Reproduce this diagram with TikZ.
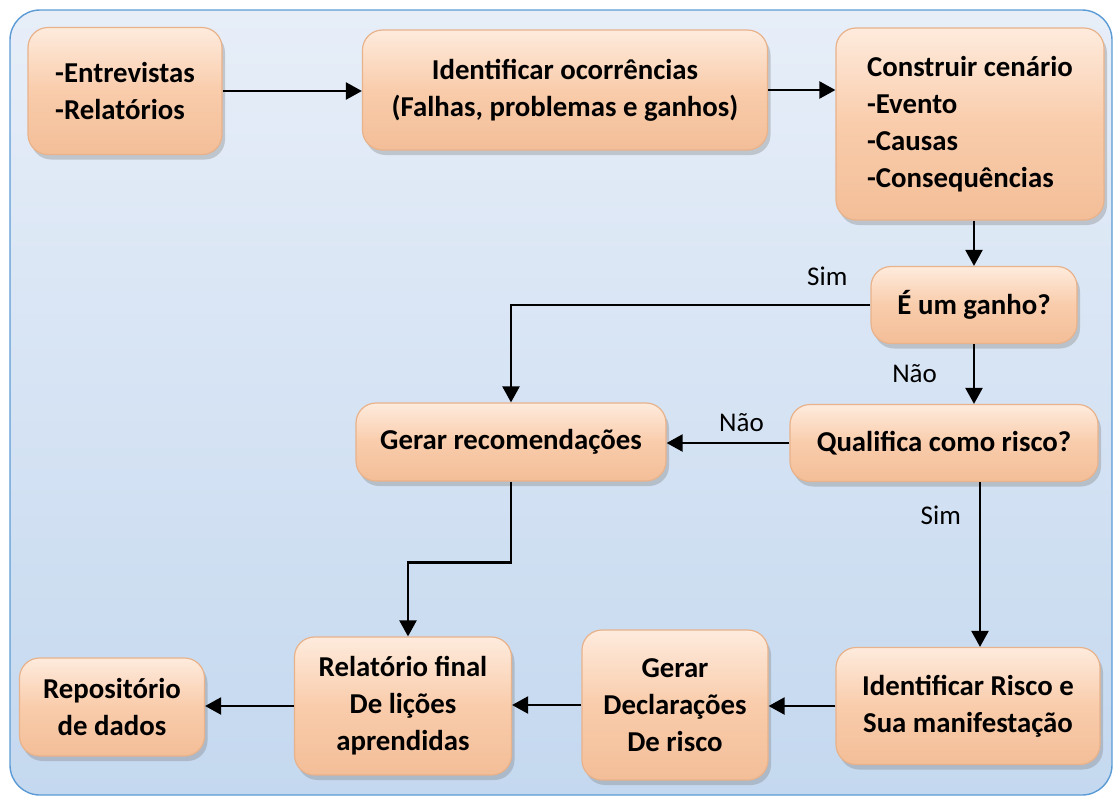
\documentclass[tikz,border=0pt]{standalone}
\usepackage{fontspec}
\setmainfont{Carlito}
\usepackage{tikz}
\usetikzlibrary{arrows.meta,shadows}
\definecolor{peachtop}{HTML}{FEEBDD}
\definecolor{peachmid}{HTML}{F9CCAB}
\definecolor{peachbot}{HTML}{F3BE98}
\definecolor{peachline}{HTML}{E8B28B}
\definecolor{frameblue}{HTML}{5B9BD5}
\definecolor{bgtop}{HTML}{E7EEF8}
\definecolor{bgbot}{HTML}{C4D8EF}

\begin{document}
\begin{tikzpicture}[x=0.5pt,y=-0.5pt,
  caixa/.style={rounded corners=10pt,top color=peachtop,bottom color=peachbot,middle color=peachmid,
    draw=peachline,line width=0.6pt,drop shadow={opacity=0.35,shadow xshift=1.5pt,shadow yshift=-2.5pt},
    font=\fontsize{14.4}{18.5}\selectfont\bfseries,align=center,inner sep=2pt},
  seta/.style={-{Triangle[length=8pt,width=8.5pt]},line width=1.15pt},
  rotulo/.style={font=\fontsize{13.5}{15}\selectfont,inner sep=1pt}]

  \useasboundingbox (0,0) rectangle (1114,799);
  \draw[draw=frameblue,line width=0.7pt,rounded corners=15pt,top color=bgtop,bottom color=bgbot] (10,10) rectangle (1112,795);

  \draw (125,91) node[caixa,align=left,minimum width=97pt,minimum height=63.5pt] (entrev) {-Entrevistas\\-Relatórios};
  \draw (565,90) node[caixa,minimum width=202.5pt,minimum height=60pt] (ocorr) {Identificar ocorrências\\(Falhas, problemas e ganhos)};
  \draw (970,124) node[caixa,align=left,minimum width=134pt,minimum height=96pt] (cenario) {Construir cenário\\-Evento\\-Causas\\-Consequências};
  \draw (974,305) node[caixa,minimum width=103pt,minimum height=38.5pt] (ganho) {É um ganho?};
  \draw (944,443) node[caixa,minimum width=154pt,minimum height=38.5pt] (qualif) {Qualifica como risco?};
  \draw (511,442) node[caixa,minimum width=155pt,minimum height=39pt] (recom) {Gerar recomendações};
  \draw (968,706) node[caixa,minimum width=132pt,minimum height=58.5pt] (identrisco) {Identificar Risco e\\Sua manifestação};
  \draw (675,705) node[caixa,minimum width=93pt,minimum height=75pt] (declar) {Gerar\\Declarações\\De risco};
  \draw (403,706) node[caixa,minimum width=108.5pt,minimum height=69pt] (relat) {Relatório final\\De lições\\aprendidas};
  \draw (112,707) node[caixa,minimum width=92.5pt,minimum height=49pt] (repos) {Repositório\\de dados};

  \draw[seta] (entrev.east) -- (entrev.east -| ocorr.west);
  \draw[seta] (ocorr.east) -- (ocorr.east -| cenario.west);
  \draw[seta] (ganho.north |- cenario.south) -- (ganho.north);
  \draw[seta] (ganho.west) -| node[rotulo,pos=0.06,above=8pt] {Sim} (recom.north);
  \draw[seta] (ganho.south) -- node[rotulo,midway,left=17pt] {Não} (ganho.south |- qualif.north);
  \draw[seta] (qualif.west) -- node[rotulo,pos=0.39,above=4pt] {Não} (qualif.west -| recom.east);
  \draw[seta] ([xshift=6pt]identrisco.north |- qualif.south) -- node[rotulo,pos=0.2,left=8pt] {Sim} ([xshift=6pt]identrisco.north);
  \draw[seta] (recom.south) -- ++(0,81) -| ([xshift=2.5pt]relat.north);
  \draw[seta] (identrisco.west) -- (identrisco.west -| declar.east);
  \draw[seta] (declar.west) -- (declar.west -| relat.east);
  \draw[seta] (relat.west) -- (relat.west -| repos.east);

\end{tikzpicture}
\end{document}
